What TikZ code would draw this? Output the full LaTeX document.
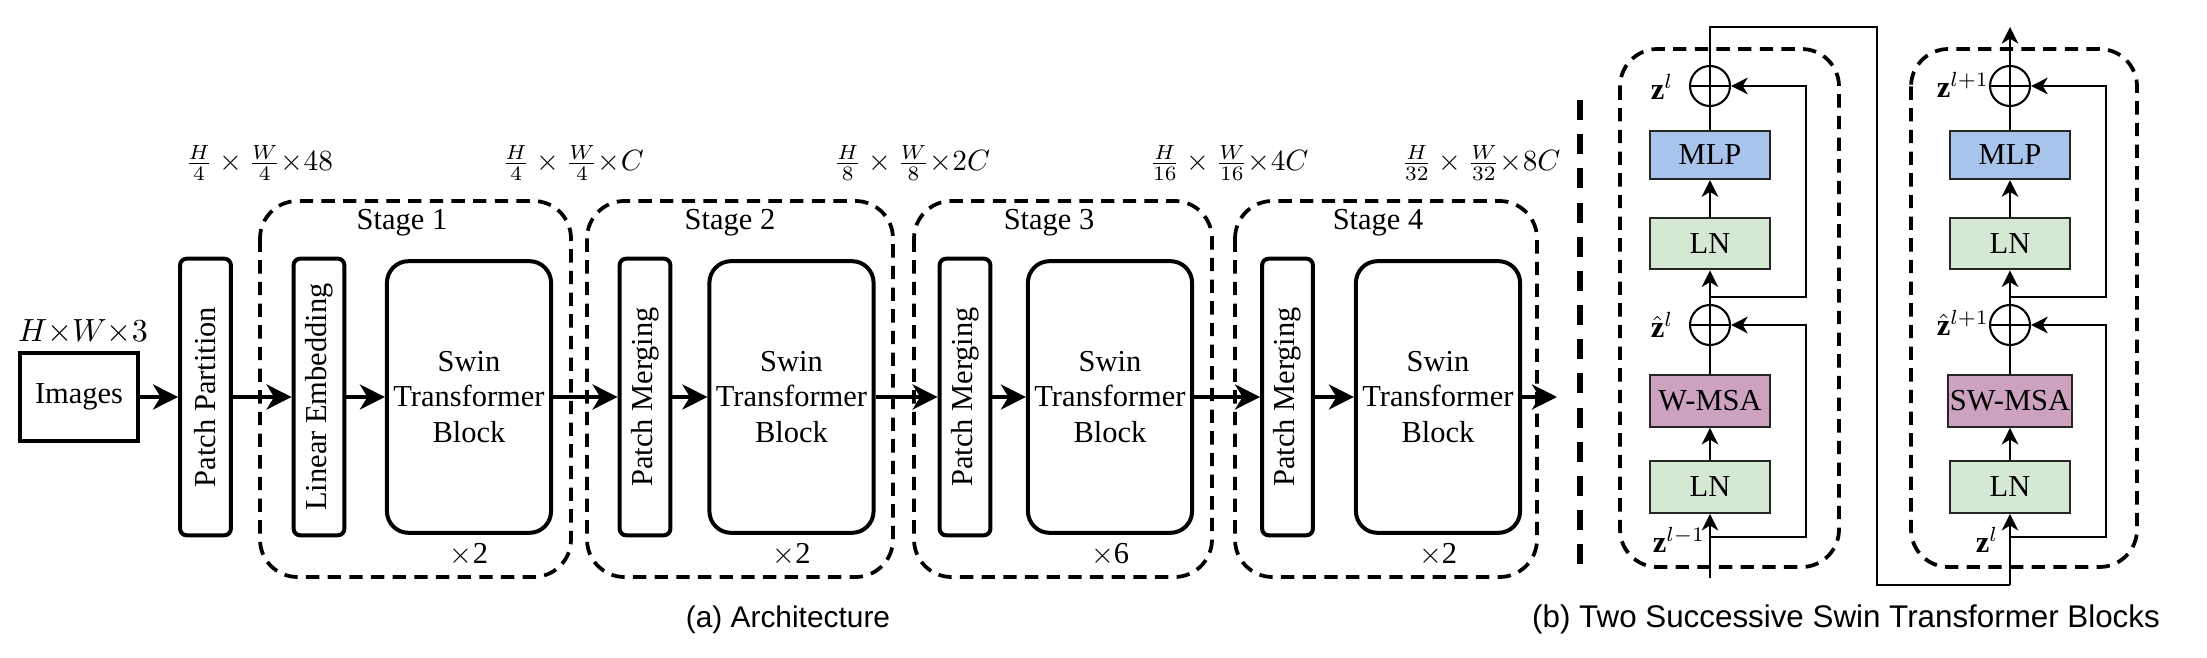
\documentclass[tikz,border=0pt]{standalone}
\usepackage{fontspec}
\setmainfont{Liberation Serif}
\newfontfamily\capfont{Liberation Sans}
\usetikzlibrary{positioning}
\usetikzlibrary{arrows.meta}
\definecolor{mlpblue}{HTML}{A9C4EB}
\definecolor{lngreen}{HTML}{D5E8D4}
\definecolor{msapink}{HTML}{CDA2BE}

\begin{document}
\begin{tikzpicture}[x=0.12mm,y=-0.12mm,
  font=\fontsize{10.4}{12}\selectfont,
  blk/.style={draw,line width=0.48mm,rounded corners=0.8mm,minimum width=33.2mm,minimum height=6.1mm,inner sep=0pt,rotate=90},
  swin/.style={draw,line width=0.48mm,rounded corners=2.6mm,minimum width=19.7mm,minimum height=32.6mm,align=center,inner sep=0pt},
  stage/.style={line width=0.45mm,dash pattern=on 1.6mm off 1.0mm,rounded corners=4.5mm},
  arr/.style={line width=0.48mm,-{Stealth[length=3mm,width=3mm,inset=0.9mm]}},
  layer/.style={draw=black!85,line width=0.25mm,minimum width=14.3mm,minimum height=6.2mm,inner sep=0pt},
  thinline/.style={line width=0.2mm},
  thinarr/.style={line width=0.2mm,-{Stealth[length=2mm,width=2mm,inset=0.6mm]}},
  addop/.style={circle,draw,line width=0.25mm,minimum size=4.8mm,inner sep=0pt},
]
\useasboundingbox (0,0) rectangle (2207,658);

% (a) architecture
\draw[stage] (260,201) rectangle (571,577);
\draw[stage] (587,201) rectangle (893,577);
\draw[stage] (914,201) rectangle (1212,577);
\draw[stage] (1235,201) rectangle (1537,577);

\node[draw,line width=0.48mm,minimum width=14.2mm,minimum height=10.5mm] (img) at (79,397) {Images};
\node (imgdim) at (83,332) {\fontsize{10.5}{12}\selectfont$H{\times}W{\times}3$};
\node[blk] (pp) at (205.5,397) {Patch Partition};

\node[blk] (le) at (319,397) {Linear Embedding};
\node[swin] (sw1) at (469,397) {Swin\\Transformer\\Block};
\node[blk] (pm2) at (645,397) {Patch Merging};
\node[swin] (sw2) at (791.5,397) {Swin\\Transformer\\Block};
\node[blk] (pm3) at (965,397) {Patch Merging};
\node[swin] (sw3) at (1110,397) {Swin\\Transformer\\Block};
\node[blk] (pm4) at (1287.5,397) {Patch Merging};
\node[swin] (sw4) at (1438,397) {Swin\\Transformer\\Block};
\coordinate (out) at (1557,397);

\node (st1) at (402,223) {Stage 1};
\node (st2) at (730,223) {Stage 2};
\node (st3) at (1049,223) {Stage 3};
\node (st4) at (1378,223) {Stage 4};
\node (rep1) at (469,555) {$\times$2};
\node (rep2) at (791.5,555) {$\times$2};
\node (rep3) at (1110,555) {$\times$6};
\node (rep4) at (1438,555) {$\times$2};

\node (dim1) at (259,163) {$\frac{H}{4}\times\frac{W}{4}{\times}48$};
\node (dim2) at (573,163) {$\frac{H}{4}\times\frac{W}{4}{\times}C$};
\node (dim3) at (912,163) {$\frac{H}{8}\times\frac{W}{8}{\times}2C$};
\node (dim4) at (1229,163) {$\frac{H}{16}\times\frac{W}{16}{\times}4C$};
\node (dim5) at (1481,163) {$\frac{H}{32}\times\frac{W}{32}{\times}8C$};

\draw[arr] (img) -- (pp);
\draw[arr] (pp) -- (le);
\draw[arr] (le) -- (sw1);
\draw[arr] (sw1) -- (pm2);
\draw[arr] (pm2) -- (sw2);
\draw[arr] (sw2) -- (pm3);
\draw[arr] (pm3) -- (sw3);
\draw[arr] (sw3) -- (pm4);
\draw[arr] (pm4) -- (sw4);
\draw[arr] (sw4) -- (out);

\draw[line width=0.75mm,dash pattern=on 2.4mm off 1.7mm] (1580,100) -- (1580,575);

% (b) two successive blocks
\draw[stage] (1620,49) rectangle (1839,567);
\draw[stage] (1911,49) rectangle (2137,567);

\node[layer,fill=lngreen] (ln1) at (1710,487) {LN};
\node[layer,fill=msapink] (wmsa) at (1710,401) {W-MSA};
\node[addop] (add1) at (1710,325) {};
\node[layer,fill=lngreen] (ln2) at (1710,243.5) {LN};
\node[layer,fill=mlpblue,minimum height=5.8mm] (mlp1) at (1710,155) {MLP};
\node[addop] (add2) at (1710,86) {};

\node[layer,fill=lngreen] (ln3) at (2010,487) {LN};
\node[layer,fill=msapink,minimum width=14.9mm] (swmsa) at (2010,401) {SW-MSA};
\node[addop] (add3) at (2010,325) {};
\node[layer,fill=lngreen] (ln4) at (2010,243.5) {LN};
\node[layer,fill=mlpblue,minimum height=5.8mm] (mlp2) at (2010,155) {MLP};
\node[addop] (add4) at (2010,86) {};

\coordinate (in1) at (1710,578);
\coordinate (br1) at (1710,537);
\coordinate (br2) at (1710,297);
\coordinate (br3) at (2010,537);
\coordinate (br4) at (2010,297);
\coordinate (outb) at (2010,27);

\draw[thinarr] (in1) -- (ln1);
\draw[thinarr] (ln1) -- (wmsa);
\draw[thinline] (wmsa) -- (add1.north);
\draw[thinline] (add1.west) -- (add1.east);
\draw[thinarr] (add1.north) -- (ln2);
\draw[thinarr] (ln2) -- (mlp1);
\draw[thinline] (mlp1) -- (add2.north);
\draw[thinline] (add2.west) -- (add2.east);
\draw[thinarr] (br1) -- (1806,537) |- (add1.east);
\draw[thinarr] (br2) -- (1806,297) |- (add2.east);

\draw[thinline] (add2.north) -- (1710,27) -- (1877,27) -- (1877,585) -- (2010,585);
\draw[thinarr] (2010,585) -- (ln3);
\draw[thinarr] (ln3) -- (swmsa);
\draw[thinline] (swmsa) -- (add3.north);
\draw[thinline] (add3.west) -- (add3.east);
\draw[thinarr] (add3.north) -- (ln4);
\draw[thinarr] (ln4) -- (mlp2);
\draw[thinline] (mlp2) -- (add4.north);
\draw[thinline] (add4.west) -- (add4.east);
\draw[thinarr] (add4.north) -- (outb);
\draw[thinarr] (br3) -- (2106,537) |- (add3.east);
\draw[thinarr] (br4) -- (2106,297) |- (add4.east);

\node (z1) at (1662,87) {$\mathbf{z}^{l}$};
\node (zh1) at (1662,325) {$\hat{\mathbf{z}}^{l}$};
\node (z0) at (1679,540) {$\mathbf{z}^{l-1}$};
\node (z2) at (1963,85) {$\mathbf{z}^{l+1}$};
\node (zh2) at (1963,323) {$\hat{\mathbf{z}}^{l+1}$};
\node (z1b) at (1987,540) {$\mathbf{z}^{l}$};

\node[font=\capfont\fontsize{10.2}{12}\selectfont] (capa) at (788,620) {(a) Architecture};
\node[font=\capfont\fontsize{10.7}{12}\selectfont] (capb) at (1846,619) {(b) Two Successive Swin Transformer Blocks};

\end{tikzpicture}
\end{document}
